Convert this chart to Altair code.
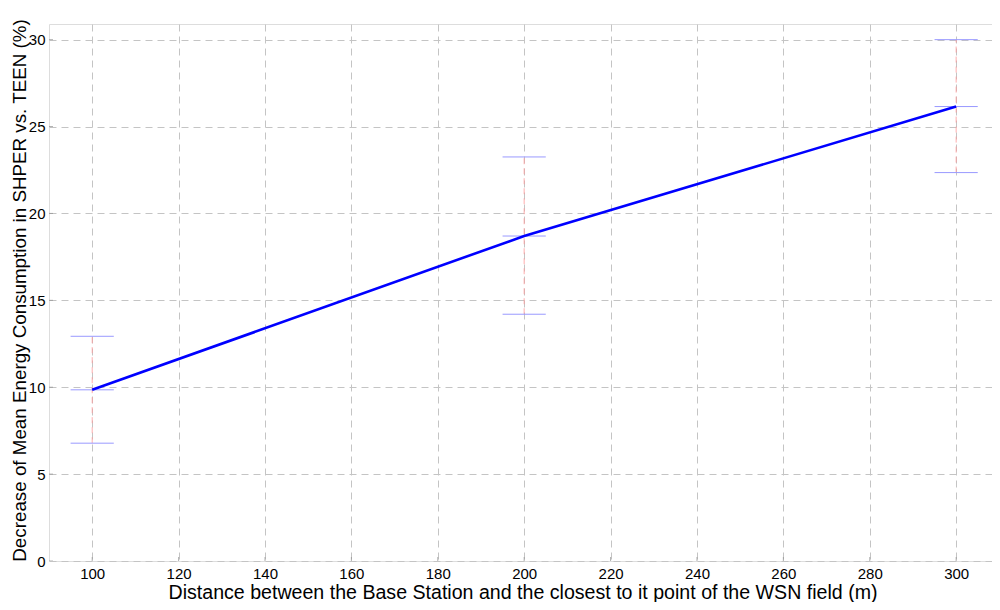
import altair as alt
import pandas as pd

distance = [100, 200, 300]
mean_decrease = [9.85, 18.7, 26.15]
upper = [12.93, 23.25, 30.0]
lower = [6.78, 14.2, 22.35]

x_ticks = [100, 120, 140, 160, 180, 200, 220, 240, 260, 280, 300]
y_ticks = [0, 5, 10, 15, 20, 25, 30]

df = pd.DataFrame({"x": distance, "m": mean_decrease, "hi": upper, "lo": lower})
caps = pd.DataFrame({
    "x": distance * 3,
    "y": upper + mean_decrease + lower,
})

FONT = "Liberation Sans"
W, H = 943, 537
xs = alt.Scale(domain=[90, 308.3], nice=False, zero=False)
ys = alt.Scale(domain=[0, 30.9], nice=False)

xax = alt.Axis(values=x_ticks, title="Distance between the Base Station and the closest to it point of the WSN field (m)",
               grid=True, gridDash=[7, 5], gridColor="#c4c4c4", gridWidth=1,
               ticks=False, domain=False, labelPadding=5, labelFontSize=15, titleFontSize=19.6,
               labelFont=FONT, titleFont=FONT, labelColor="black", titleColor="black",
               titleFontWeight="normal", titleBaseline="alphabetic", titleY=37,
               titleX=(870 + 175) / 2 - 49, titleAlign="center")
yax = alt.Axis(values=y_ticks, title="Decrease of Mean Energy Consumption in SHPER vs. TEEN (%)",
               grid=True, gridDash=[7, 5], gridColor="#c4c4c4", gridWidth=1,
               ticks=False, domain=False, labelPadding=4, labelFontSize=15, titleFontSize=18.8,
               labelFont=FONT, titleFont=FONT, labelColor="black", titleColor="black",
               titleFontWeight="normal", titleBaseline="alphabetic", titleX=-24, titleY=266,
               titleAlign="center", titleAngle=270)

base = alt.Chart(df)

whisker = base.mark_rule(color="#ff9999", strokeDash=[6, 4], strokeWidth=1, opacity=0.8).encode(
    x=alt.X("x:Q", scale=xs, axis=xax),
    y=alt.Y("lo:Q", scale=ys, axis=yax),
    y2="hi:Q",
)

cap = alt.Chart(caps).transform_calculate(
    x0="datum.x - 5", x1="datum.x + 5"
).mark_rule(color="#9999ff", strokeWidth=1).encode(
    x=alt.X("x0:Q", scale=xs),
    x2="x1:Q",
    y=alt.Y("y:Q", scale=ys),
)

line = base.mark_line(color="#0000ff", strokeWidth=2.6).encode(
    x=alt.X("x:Q", scale=xs),
    y=alt.Y("m:Q", scale=ys),
)

xt = alt.Chart(pd.DataFrame({"t": x_ticks})).mark_tick(
    orient="vertical", size=8, color="#909090", thickness=1, clip=True
).encode(x=alt.X("t:Q", scale=xs), y=alt.value(H))

yt = alt.Chart(pd.DataFrame({"t": y_ticks})).mark_tick(
    orient="horizontal", size=8, color="#909090", thickness=1, clip=True
).encode(y=alt.Y("t:Q", scale=ys), x=alt.value(0))

chart = alt.layer(whisker, cap, line, xt, yt).properties(
    width=W, height=H,
    autosize=alt.AutoSizeParams(type="none"),
    padding={"left": 41, "top": 16, "right": 0, "bottom": 41},
).configure_view(stroke="#a6a6a6", strokeWidth=1).configure(background="white")

chart.save("out.html", embed_options={"renderer": "svg", "actions": False})
